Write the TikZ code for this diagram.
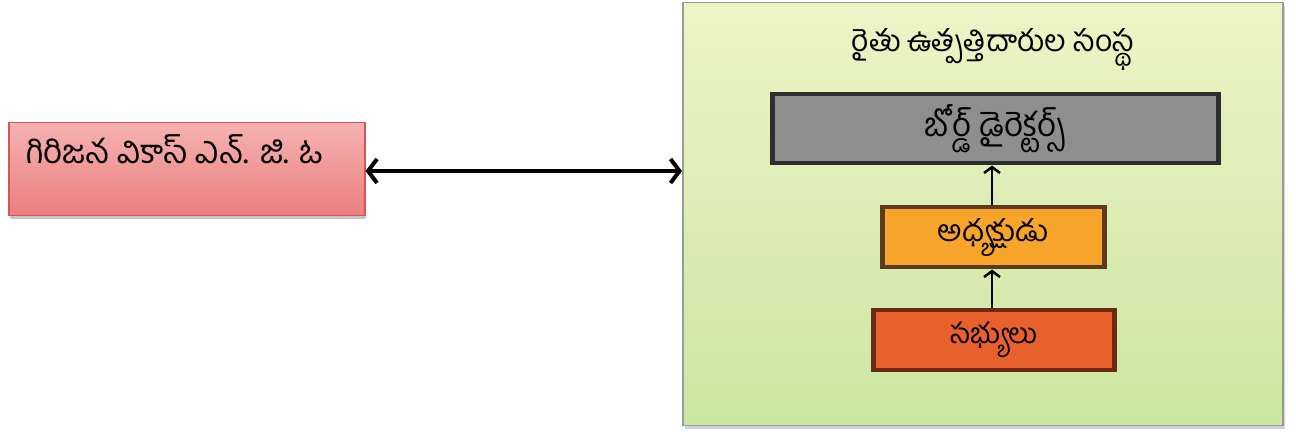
\documentclass[tikz,border=0pt]{standalone}
\usepackage{fontspec}
\newfontfamily\telugu[Script=Telugu]{Hind Guntur}
\usetikzlibrary{arrows.meta,shadows}
\definecolor{pinkfill}{HTML}{F6B2B2}
\definecolor{pinkdark}{HTML}{EA7E7E}
\definecolor{pinkedge}{HTML}{D9534F}
\definecolor{greentop}{HTML}{EEF4C6}
\definecolor{greenbot}{HTML}{CBE6A2}
\definecolor{greenedge}{HTML}{9A9A9A}
\definecolor{grayfill}{HTML}{8E8E8E}
\definecolor{grayedge}{HTML}{2E2E2E}
\definecolor{orangefill}{HTML}{F7A52A}
\definecolor{orangeedge}{HTML}{5C3A1E}
\definecolor{redfill}{HTML}{E8612C}
\definecolor{rededge}{HTML}{6B2A12}
\tikzset{
  tel/.style={font=\telugu\fontsize{#1}{#1}\selectfont, text=black},
  tel/.default=30,
  orgbox/.style={draw=pinkedge, line width=1.5pt, top color=pinkfill, bottom color=pinkdark, drop shadow={shadow xshift=1pt,shadow yshift=-3pt,opacity=0.45}},
  outerbox/.style={draw=greenedge, line width=1.5pt, top color=greentop, bottom color=greenbot, drop shadow={shadow xshift=2pt,shadow yshift=-3pt,opacity=0.35}},
  levelbox/.style={line width=4.5pt, inner sep=0pt},
  bigarrow/.style={line width=4pt, {Straight Barb[length=9pt,width=24pt,line width=4pt]}-{Straight Barb[length=9pt,width=24pt,line width=4pt]}},
  uparrow/.style={line width=2.5pt, -{Straight Barb[length=6pt,width=16pt,line width=2.5pt]}}
}
\begin{document}
\begin{tikzpicture}[x=1pt,y=-1pt]
\useasboundingbox (0,0) rectangle (1296,435);
% left organisation box
\node[orgbox, minimum width=356pt, minimum height=93pt, anchor=north west, inner sep=0pt] (ngo) at (8,122) {};
\node[tel=33, anchor=west, inner sep=0pt] (ngotext) at (26,149) {గిరిజన వికాస్ ఎన్. జి. ఓ};
% right outer box
\node[outerbox, minimum width=600pt, minimum height=423pt, anchor=north west, inner sep=0pt] (fpo) at (682,2) {};
\node[tel=30] (title) at (993,50) {రైతు ఉత్పత్తిదారుల సంస్థ};
% levels
\node[levelbox, tel=33, draw=grayedge, fill=grayfill, minimum width=446pt, minimum height=69pt, anchor=north west] (board) at (770,92) {బోర్డ్ డైరెక్టర్స్};
\node[levelbox, tel=30, draw=orangeedge, fill=orangefill, minimum width=222pt, minimum height=60pt, anchor=north west] (pres) at (880,205) {అధ్యక్షుడు};
\node[levelbox, tel=28, draw=rededge, fill=redfill, minimum width=241pt, minimum height=60pt, anchor=north west] (mem) at (871,308) {సభ్యులు};
% connectors
\draw[bigarrow] (ngo.east |- 0,171) -- (fpo.west |- 0,171);
\draw[uparrow] (pres.north -| 992,0) -- (board.south -| 992,0);
\draw[uparrow] (mem.north -| 992,0) -- (pres.south -| 992,0);
\end{tikzpicture}
\end{document}
